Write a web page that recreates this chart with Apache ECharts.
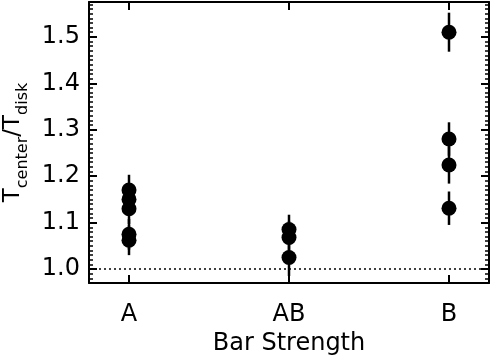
<!DOCTYPE html>
<html>
<head>
<meta charset="utf-8">
<script src="https://cdn.jsdelivr.net/npm/echarts@6/dist/echarts.min.js"></script>
<style>
  html, body { margin: 0; padding: 0; background: #fff; }
  #chart { width: 491px; height: 357px; }
</style>
</head>
<body>
<div id="chart"></div>
<script>
// categories and their positions on the x value axis
const categories = ['A', 'AB', 'B']
const catPos = [1, 2, 3]

// T_center / T_disk per bar class, with error bars
const aVals = [1.170, 1.150, 1.130, 1.075, 1.062]
const aErr = [0.033, 0.033, 0.033, 0.033, 0.032]
const abVals = [1.085, 1.068, 1.025]
const abErr = [0.032, 0.035, 0.040]
const bVals = [1.510, 1.280, 1.224, 1.131]
const bErr = [0.042, 0.036, 0.040, 0.036]

const yTicks = [1.0, 1.1, 1.2, 1.3, 1.4, 1.5]
const refLine = 1.0

const font = '"DejaVu Sans", sans-serif'

const points = []
;[[aVals, aErr], [abVals, abErr], [bVals, bErr]].forEach(([vals, errs], i) => {
  vals.forEach((v, j) => points.push([catPos[i], v, errs[j]]))
})

const chart = echarts.init(document.getElementById('chart'))

const yBase = { type: 'value', min: 0.97, max: 1.575, splitLine: { show: false } }
const line = { show: true, lineStyle: { color: '#000', width: 2 } }

const option = {
  animation: false,
  grid: { left: 89, top: 2, width: 400, height: 281, containLabel: false, outerBoundsMode: 'none' },
  xAxis: [
    {
      type: 'value', min: 0.75, max: 3.25, position: 'bottom',
      axisLine: line,
      axisTick: { show: true, inside: true, length: 8, customValues: catPos, lineStyle: { color: '#000', width: 2 } },
      axisLabel: {
        customValues: catPos, margin: 20, color: '#000', fontSize: 24, fontFamily: font,
        formatter: v => categories[catPos.indexOf(Math.round(v))] || ''
      },
      splitLine: { show: false },
      name: 'Bar Strength', nameLocation: 'middle', nameGap: 49,
      nameTextStyle: { color: '#000', fontSize: 24, fontFamily: font }
    },
    {
      type: 'value', min: 0.75, max: 3.25, position: 'top',
      axisLine: line,
      axisTick: { show: true, inside: true, length: 8, customValues: catPos, lineStyle: { color: '#000', width: 2 } },
      axisLabel: { show: false }, splitLine: { show: false }
    }
  ],
  yAxis: [
    Object.assign({}, yBase, {
      position: 'left',
      axisLine: line,
      axisTick: { show: true, inside: true, length: 8, customValues: yTicks, lineStyle: { color: '#000', width: 2 } },
      axisLabel: {
        customValues: yTicks, margin: 9, color: '#000', fontSize: 24, fontFamily: font,
        formatter: v => v.toFixed(1)
      },
      name: '{t|T}{s|center}{t|/T}{s|disk}',
      nameLocation: 'middle', nameGap: 60, nameRotate: 90,
      nameTextStyle: {
        color: '#000', fontFamily: font,
        rich: {
          t: { fontSize: 23, fontFamily: font, color: '#000', verticalAlign: 'bottom', lineHeight: 22 },
          s: { fontSize: 16, fontFamily: font, color: '#000', verticalAlign: 'bottom', lineHeight: 22, padding: [0, 0, -6, 0] }
        }
      }
    }),
    Object.assign({}, yBase, {
      position: 'left', interval: 0.01,
      axisLine: { show: false },
      axisTick: { show: true, inside: true, length: 4, lineStyle: { color: '#000', width: 1.5 } },
      axisLabel: { show: false }
    }),
    Object.assign({}, yBase, {
      position: 'right',
      axisLine: line,
      axisTick: { show: true, inside: true, length: 8, customValues: yTicks, lineStyle: { color: '#000', width: 2 } },
      axisLabel: { show: false }
    }),
    Object.assign({}, yBase, {
      position: 'right', interval: 0.01,
      axisLine: { show: false },
      axisTick: { show: true, inside: true, length: 4, lineStyle: { color: '#000', width: 1.5 } },
      axisLabel: { show: false }
    })
  ],
  series: [
    {
      type: 'custom',
      xAxisIndex: 0, yAxisIndex: 0,
      data: points,
      z: 2,
      renderItem: (params, api) => {
        const x = api.value(0), y = api.value(1), e = api.value(2)
        const p1 = api.coord([x, y + e])
        const p2 = api.coord([x, y - e])
        return {
          type: 'line',
          shape: { x1: p1[0], y1: p1[1], x2: p2[0], y2: p2[1] },
          style: { stroke: '#000', lineWidth: 2.5 }
        }
      }
    },
    {
      type: 'scatter',
      xAxisIndex: 0, yAxisIndex: 0,
      data: points.map(p => [p[0], p[1]]),
      symbol: 'circle', symbolSize: 15,
      itemStyle: { color: '#000', opacity: 1 },
      z: 3,
      markLine: {
        silent: true, symbol: 'none', label: { show: false },
        lineStyle: { color: '#000', type: [2, 3], width: 1.5 },
        data: [{ yAxis: refLine }]
      }
    }
  ]
}

chart.setOption(option)
</script>
</body>
</html>
